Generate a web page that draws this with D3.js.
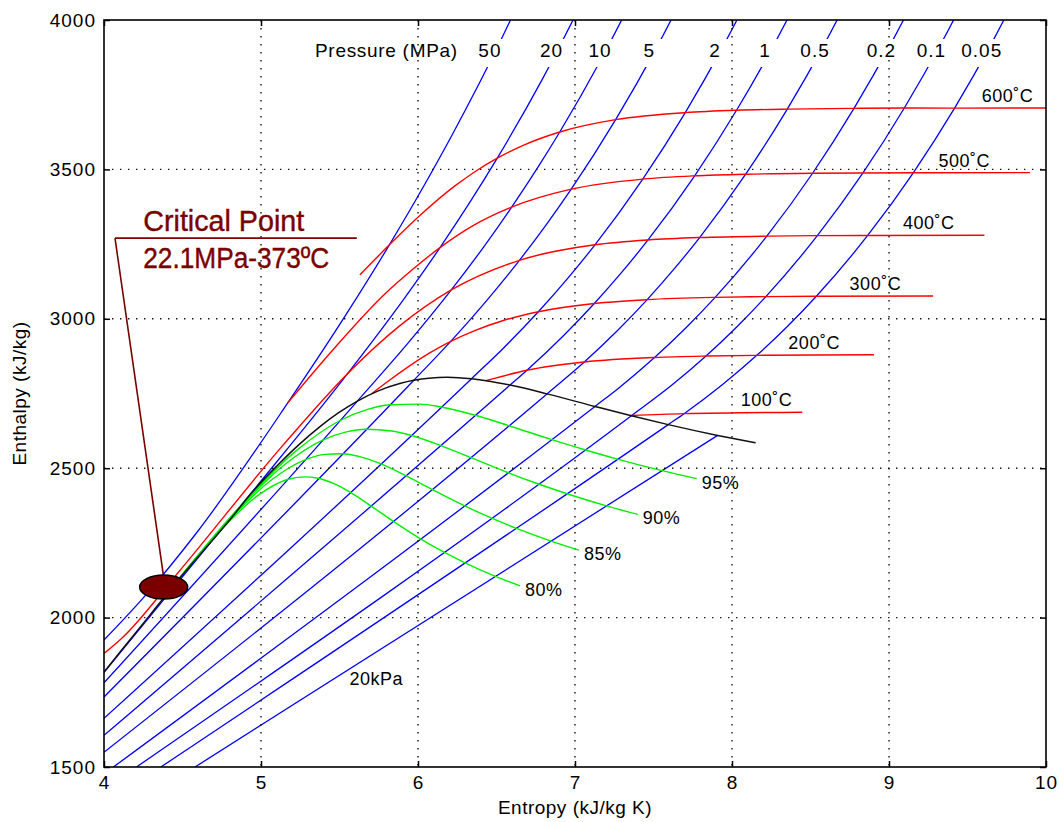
<!DOCTYPE html>
<html>
<head>
<meta charset="utf-8">
<script src="https://cdn.jsdelivr.net/npm/d3@7"></script>
<style>
  body { margin: 0; background: #fff; }
  text { font-family: "Liberation Sans", Arial, sans-serif; }
</style>
</head>
<body>
<svg id="chart" width="1059" height="822"></svg>
<script>
/* data: [entropy kJ/kgK, enthalpy kJ/kg] */
const entropyTicks = [4, 5, 6, 7, 8, 9, 10];
const enthalpyTicks = [1500, 2000, 2500, 3000, 3500, 4000];

// isobars (blue)
const pressureNames = ["50", "20", "10", "5", "2", "1", "0.5", "0.2", "0.1", "0.05"];
const isobar50 = [[4.0,1925],[4.25,2066],[4.59,2284],[5.1726,2720.1],[5.5485,3019.5],[5.8177,3247.5],[6.0342,3441.8],[6.2189,3616.8],[6.529,3933.6],[6.63,4045]];
const isobar20 = [[4.0,1817],[4.9269,2409.7],[5.554,2818.1],[5.9017,3060.1],[6.1401,3238.2],[6.3348,3393.5],[6.5048,3537.6],[6.7993,3809.0],[7.0544,4069.8]];
const isobar10 = [[4.0,1781.7],[5.6141,2724.7],[5.9443,2923.4],[6.212,3096.5],[6.419,3240.9],[6.5966,3373.7],[6.7561,3500.9],[6.9029,3625.3],[7.1687,3870.5],[7.4077,4114.9]];
const isobar5 = [[4.0,1734.2],[5.9734,2794.3],[6.2084,2924.5],[6.4493,3068.4],[6.6459,3195.7],[6.8186,3316.2],[6.9759,3433.8],[7.2589,3666.5],[7.5122,3900.1],[7.744,4137.1]];
const isobar2 = [[4.0,1662.7],[6.3409,2799.5],[6.5453,2902.5],[6.7664,3023.5],[6.9563,3137.0],[7.1271,3247.6],[7.4317,3467.6],[7.7024,3690.1],[7.9487,3917.4],[8.1765,4150.3]];
const isobar1 = [[4.0,1606.1],[6.5865,2778.1],[6.694,2827.9],[6.9247,2942.6],[7.1229,3051.2],[7.3011,3157.7],[7.4651,3263.9],[7.7622,3478.5],[8.029,3697.9],[8.2731,3923.1],[8.4996,4154.8]];
const isobar05 = [[4.0,1549.4],[6.8213,2748.7],[7.0592,2855.4],[7.2709,2960.7],[7.4599,3064.2],[7.6329,3167.7],[7.7938,3271.9],[8.0873,3483.9],[8.3522,3701.7],[8.5952,3925.9],[8.8211,4156.9]];
const isobar02 = [[4.06,1500],[7.1271,2706.7],[7.2795,2768.8],[7.5066,2870.5],[7.7086,2971.0],[7.8926,3071.8],[8.2218,3276.6],[8.5133,3487.1],[8.777,3704.3],[9.0194,3927.6],[9.2449,4158.2]];
const isobar01 = [[4.207,1500],[7.3594,2675.5],[7.6134,2776.4],[7.8343,2875.3],[8.0333,2974.3],[8.2158,3074.3],[8.5435,3278.2],[8.8342,3488.1],[9.0976,3705.4],[9.3398,3928.7],[9.5652,4159.0]];
const isobar005 = [[4.362,1500],[7.5939,2645.9],[7.6947,2682.5],[7.9401,2780.1],[8.158,2877.7],[8.3556,2976.0],[8.5373,3075.5],[8.8642,3278.9],[9.1546,3488.7],[9.4178,3705.1],[9.6599,3928.5],[9.8852,4158.9]];
const isobar002 = [[4.58,1500],[7.9085,2609.7]];

// isotherms (red)
const tempNames = ["600˚C", "500˚C", "400˚C", "300˚C", "200˚C", "100˚C"];
const iso600 = [[5.63,3147],[5.8177,3247.5],[6.0135,3346.4],[6.2331,3443.9],[6.3602,3491.4],[6.5048,3537.6],[6.6776,3582.3],[6.9029,3625.3],[7.2589,3666.5],[7.7024,3690.1],[8.029,3697.9],[8.3522,3701.7],[8.777,3704.3],[9.0976,3705.4],[9.4178,3705.1],[10.1608,3705.6]];
const iso500 = [[5.1726,2720.1],[5.47,2903.3],[5.7904,3083.9],[5.9592,3162.4],[6.1401,3238.2],[6.348,3310.8],[6.5966,3373.7],[6.9759,3433.8],[7.4317,3467.6],[7.7622,3478.5],[8.0873,3483.9],[8.5133,3487.1],[8.8342,3488.1],[9.1546,3488.7],[9.8978,3489.1]];
const iso400 = [[4.0,1880],[4.1135,1930.9],[4.4728,2151.1],[5.1418,2578.0],[5.554,2818.1],[5.881,2975.4],[6.212,3096.5],[6.6459,3195.7],[7.1271,3247.6],[7.4651,3263.9],[7.7938,3271.9],[8.2218,3276.6],[8.5435,3278.2],[8.8642,3278.9],[9.6077,3279.6]];
const iso300 = [[5.7045,2749.0],[5.7942,2785.0],[6.0692,2884.2],[6.2084,2924.5],[6.3615,2960.7],[6.539,2993.5],[6.7664,3023.5],[7.1229,3051.2],[7.4599,3064.2],[7.8926,3071.8],[8.2158,3074.3],[8.5373,3075.5],[9.2812,3076.5]];
const iso200 = [[6.4323,2792.8],[6.694,2827.9],[7.0592,2855.4],[7.5066,2870.5],[7.8343,2875.3],[8.158,2877.7],[8.9038,2879.5]];
const iso100 = [[7.3549,2676.1],[7.6947,2682.5],[8.4479,2687.5]];

// saturation line (black)
const satLine = [[4.0,1817],[4.1075,1888],[4.2947,2010],[4.412,2087],[4.5439,2170],[4.8124,2334],[4.9269,2409.7],[5.1044,2509.1],[5.2455,2580.6],[5.3717,2637.6],[5.4924,2684.9],[5.6141,2724.7],[5.7432,2758.0],[5.8892,2784.3],[5.9734,2794.3],[6.0701,2801.4],[6.1869,2804.2],[6.2575,2803.1],[6.3409,2799.5],[6.4448,2792.2],[6.5865,2778.1],[6.8213,2748.7],[7.1271,2706.7],[7.3594,2675.5],[7.5939,2645.9],[7.9085,2609.7],[8.1502,2584.7]];

// constant quality lines (green)
const qualityNames = ["95%", "90%", "85%", "80%"];
const q95 = [[4.412,2087],[4.881,2380.5],[5.229,2560.5],[5.501,2658.8],[5.679,2696.8],[5.821,2712.3],[6.01,2714.3],[6.146,2705.0],[6.364,2677.3],[6.573,2643.3],[6.847,2596.5],[7.057,2562.6],[7.269,2530.6],[7.555,2491.8],[7.775,2465.0]];
const q90 = [[4.412,2087],[4.836,2351.4],[5.147,2510.5],[5.389,2593.0],[5.544,2621.6],[5.668,2630.3],[5.833,2624.5],[5.952,2610.4],[6.142,2576.6],[6.325,2537.9],[6.567,2486.4],[6.754,2449.7],[6.944,2415.4],[7.201,2373.9],[7.4,2345.3]];
const q85 = [[4.412,2087],[4.79,2322.2],[5.066,2460.5],[5.276,2527.1],[5.41,2546.3],[5.515,2548.3],[5.656,2534.7],[5.757,2515.9],[5.919,2475.8],[6.077,2432.4],[6.288,2376.3],[6.451,2336.8],[6.619,2300.1],[6.847,2256.0],[7.025,2225.7]];
const q80 = [[4.412,2087],[4.744,2293.0],[4.985,2410.5],[5.163,2461.3],[5.275,2471.1],[5.363,2466.3],[5.479,2445.0],[5.562,2421.4],[5.697,2375.0],[5.829,2327.0],[6.008,2266.2],[6.148,2223.9],[6.293,2184.8],[6.493,2138.0],[6.65,2106.1]];

// critical point marker
const criticalPoint = [4.38, 2102];
const criticalText = ["Critical Point", "22.1MPa-373ºC"];

/* chart */
let margin = {top: 20, right: 13, bottom: 55, left: 104},
  width = 1059 - margin.left - margin.right,
  height = 822 - margin.top - margin.bottom;

let x = d3.scaleLinear().domain([4, 10]).range([0, width]);
let y = d3.scaleLinear().domain([1500, 4000]).range([height, 0]);

let svg = d3.select("#chart")
  .append("g")
  .attr("transform", "translate(" + margin.left + "," + margin.top + ")");

svg.append("defs").append("clipPath").attr("id", "clipPlot")
  .append("rect").attr("width", width).attr("height", height);

let line = d3.line()
  .x(d => x(d[0]))
  .y(d => y(d[1]))
  .curve(d3.curveMonotoneX);

let plot = svg.append("g").attr("clip-path", "url(#clipPlot)");

// isobars
let isobars = [isobar50, isobar20, isobar10, isobar5, isobar2, isobar1,
  isobar05, isobar02, isobar01, isobar005, isobar002];
plot.append("g").selectAll("path")
  .data(isobars)
  .enter().append("path")
  .attr("d", line)
  .attr("fill", "none")
  .attr("stroke", "#0000ff")
  .attr("stroke-width", 1.3);

// isobars are broken where the pressure labels sit
plot.append("rect")
  .attr("x", 0).attr("y", 19)
  .attr("width", width).attr("height", 28)
  .attr("fill", "#fff");

// dotted grid
plot.selectAll(".vgrid")
  .data(entropyTicks.slice(1, -1))
  .enter().append("line")
  .attr("x1", d => x(d)).attr("x2", d => x(d))
  .attr("y1", 0).attr("y2", height)
  .attr("stroke", "#111").attr("stroke-width", 1.4)
  .attr("stroke-dasharray", "1.4,6.6");
plot.selectAll(".hgrid")
  .data(enthalpyTicks.slice(1, -1))
  .enter().append("line")
  .attr("x1", 0).attr("x2", width)
  .attr("y1", d => y(d)).attr("y2", d => y(d))
  .attr("stroke", "#111").attr("stroke-width", 1.4)
  .attr("stroke-dasharray", "1.4,6.6");

// isotherms
let isotherms = [iso600, iso500, iso400, iso300, iso200, iso100];
plot.append("g").selectAll("path")
  .data(isotherms)
  .enter().append("path")
  .attr("d", line)
  .attr("fill", "none")
  .attr("stroke", "#ff0000")
  .attr("stroke-width", 1.4);

// quality lines
let quality = [q95, q90, q85, q80];
plot.append("g").selectAll("path")
  .data(quality)
  .enter().append("path")
  .attr("d", line)
  .attr("fill", "none")
  .attr("stroke", "#00ee00")
  .attr("stroke-width", 1.4);

// saturation line
plot.append("path")
  .datum(satLine)
  .attr("d", line)
  .attr("fill", "none")
  .attr("stroke", "#111")
  .attr("stroke-width", 1.5);

// point of a polyline where coordinate k equals v
function crossAt(pts, v, k) {
  for (let i = 1; i < pts.length; i++) {
    let a = pts[i - 1], b = pts[i];
    if ((a[k] - v) * (b[k] - v) <= 0) {
      let t = (v - a[k]) / (b[k] - a[k]);
      return [a[0] + t * (b[0] - a[0]), a[1] + t * (b[1] - a[1])];
    }
  }
  return pts[pts.length - 1];
}

// pressure labels
svg.append("text")
  .attr("x", 211).attr("y", 37)
  .attr("font-size", 19)
  .attr("letter-spacing", 0.7)
  .text("Pressure (MPa)");
svg.selectAll(".plab")
  .data(pressureNames)
  .enter().append("text")
  .attr("x", (d, i) => x(crossAt(isobars[i], 3900, 1)[0]) - 6)
  .attr("y", 37)
  .attr("text-anchor", "middle")
  .attr("font-size", 19)
  .attr("letter-spacing", 1)
  .text(d => d);

// 20 kPa label
let kpa = crossAt(isobar002, 5.57, 0);
svg.append("text")
  .attr("x", x(kpa[0]) - 1).attr("y", y(kpa[1]) + 17)
  .attr("font-size", 18)
  .attr("letter-spacing", 0.5)
  .text("20kPa");

// temperature labels, set just above the end of each isotherm
let tempLabelDx = [-38, -40, -30, -32, -34, -10];
svg.selectAll(".tlab")
  .data(tempNames)
  .enter().append("text")
  .attr("x", (d, i) => Math.min(x(isotherms[i][isotherms[i].length - 1][0]), width + 27) + tempLabelDx[i])
  .attr("y", (d, i) => y(isotherms[i][isotherms[i].length - 1][1]) - 6)
  .attr("text-anchor", "end")
  .attr("font-size", 18)
  .attr("letter-spacing", 0.5)
  .text(d => d);

// quality labels
svg.selectAll(".qlab")
  .data(qualityNames)
  .enter().append("text")
  .attr("x", (d, i) => x(quality[i][quality[i].length - 1][0]) + 5)
  .attr("y", (d, i) => y(quality[i][quality[i].length - 1][1]) + 10)
  .attr("font-size", 18)
  .attr("letter-spacing", 0.5)
  .text(d => d);

// critical point callout
let dark = "#7a0000";
svg.append("line")
  .attr("x1", x(4.07)).attr("x2", x(5.61))
  .attr("y1", y(3270)).attr("y2", y(3270))
  .attr("stroke", dark).attr("stroke-width", 1.6);
svg.append("line")
  .attr("x1", x(4.07)).attr("y1", y(3270))
  .attr("x2", x(criticalPoint[0])).attr("y2", y(criticalPoint[1]) - 10)
  .attr("stroke", dark).attr("stroke-width", 1.6);
svg.append("ellipse")
  .attr("cx", x(criticalPoint[0])).attr("cy", y(criticalPoint[1]))
  .attr("rx", 24).attr("ry", 12)
  .attr("fill", dark)
  .attr("stroke", "#000").attr("stroke-width", 1.5);
svg.selectAll(".ctext")
  .data(criticalText)
  .enter().append("text")
  .attr("x", x(4.25))
  .attr("y", (d, i) => y(i ? 3170 : 3294))
  .attr("font-size", 30)
  .attr("fill", dark)
  .attr("stroke", dark).attr("stroke-width", 0.4)
  .attr("textLength", (d, i) => i ? 186 : 161)
  .attr("lengthAdjust", "spacingAndGlyphs")
  .text(d => d);

// axes with inward ticks
function styleAxis(g) {
  g.select(".domain").remove();
  g.selectAll(".tick line").attr("stroke", "#000").attr("stroke-width", 1.5);
  g.selectAll(".tick text")
    .attr("font-size", 19)
    .attr("letter-spacing", 1)
    .attr("fill", "#000");
}
svg.append("g")
  .call(d3.axisLeft(y).tickValues(enthalpyTicks).tickFormat(d3.format("d")).tickSize(-6).tickPadding(8))
  .call(styleAxis);
svg.append("g")
  .attr("transform", "translate(" + width + ",0)")
  .call(d3.axisRight(y).tickValues(enthalpyTicks).tickSize(-6).tickFormat(""))
  .call(styleAxis);
svg.append("g")
  .attr("transform", "translate(0," + height + ")")
  .call(d3.axisBottom(x).tickValues(entropyTicks).tickFormat(d3.format("d")).tickSize(-6).tickPadding(9))
  .call(styleAxis);
svg.append("g")
  .call(d3.axisTop(x).tickValues(entropyTicks).tickSize(-6).tickFormat(""))
  .call(styleAxis);

svg.append("rect")
  .attr("width", width).attr("height", height)
  .attr("fill", "none")
  .attr("stroke", "#000").attr("stroke-width", 1.6);

// axis titles
svg.append("text")
  .attr("x", width / 2).attr("y", height + 47)
  .attr("text-anchor", "middle")
  .attr("font-size", 19)
  .attr("letter-spacing", 0.5)
  .text("Entropy (kJ/kg K)");
svg.append("text")
  .attr("transform", "translate(-78," + (y(2750)) + ") rotate(-90)")
  .attr("text-anchor", "middle")
  .attr("font-size", 19)
  .attr("letter-spacing", 0.5)
  .text("Enthalpy (kJ/kg)");
</script>
</body>
</html>
